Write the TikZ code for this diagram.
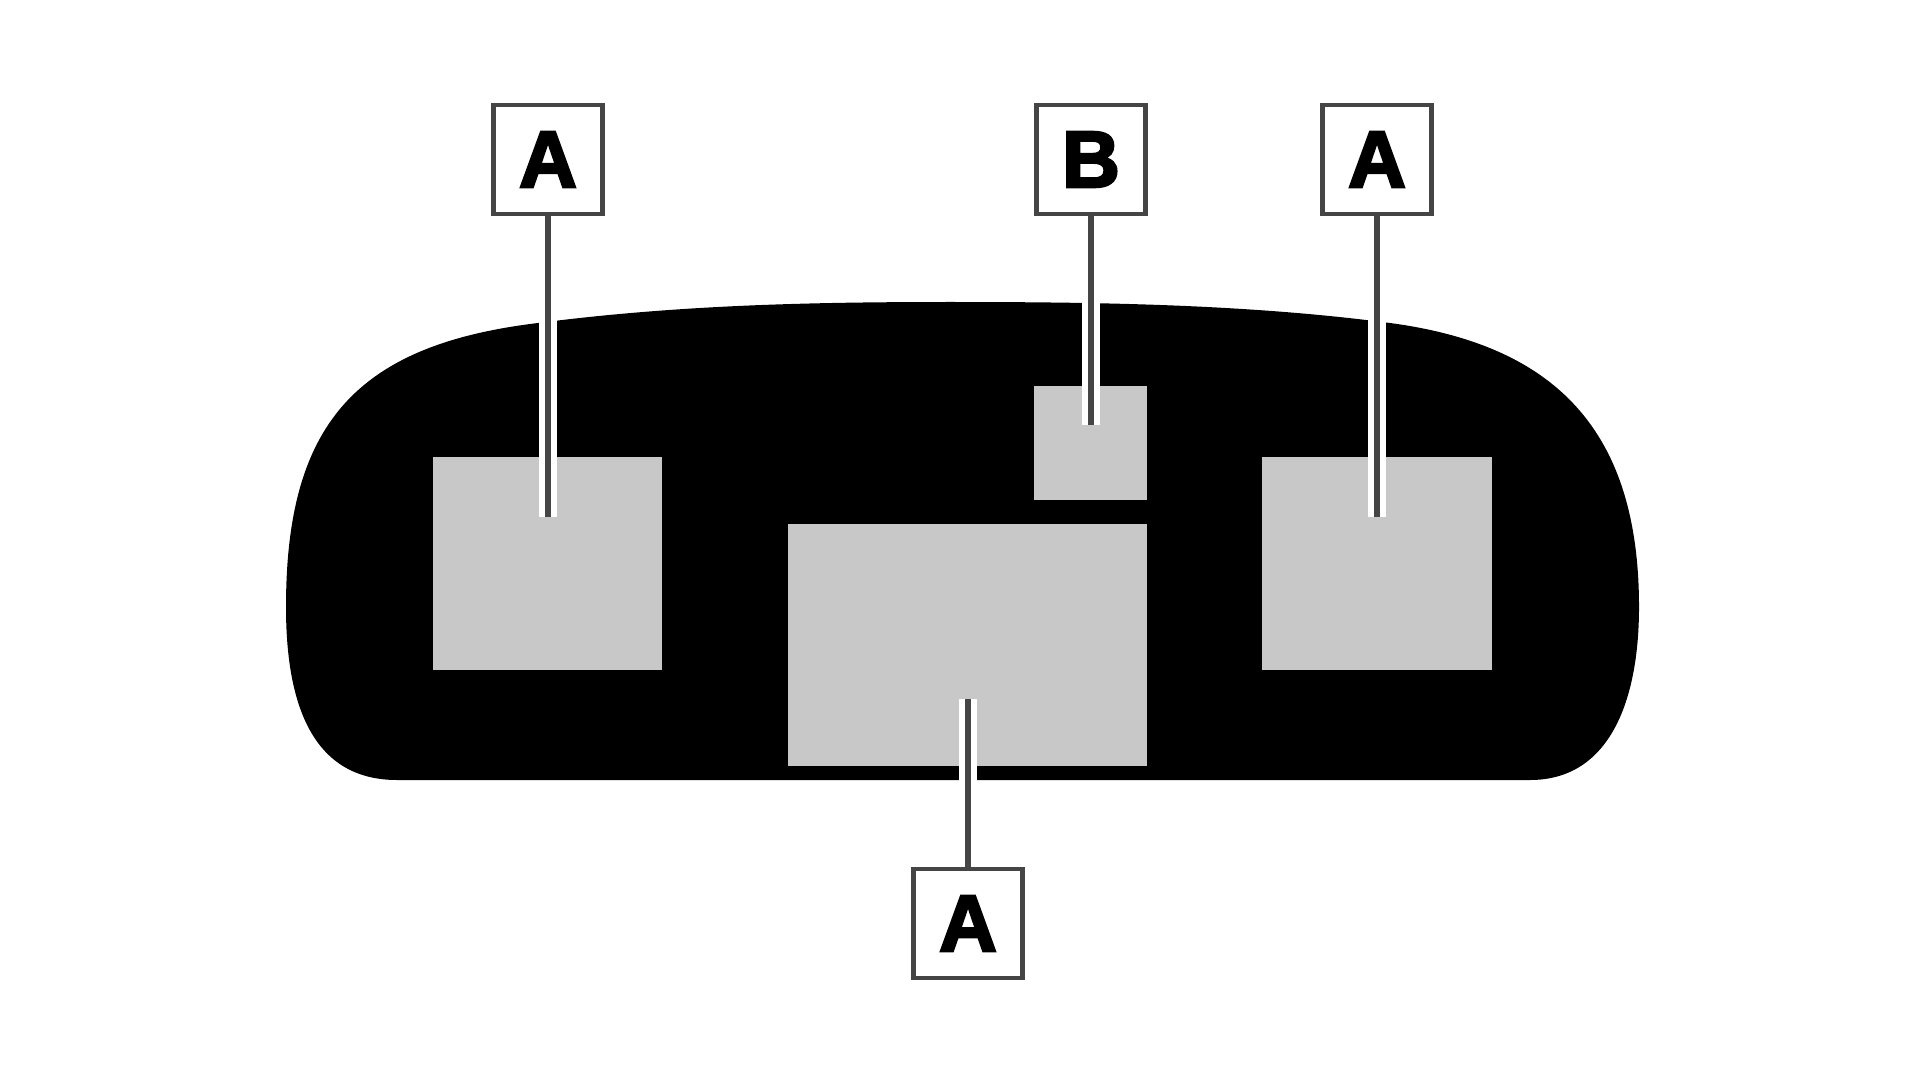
\documentclass[tikz,border=0pt]{standalone}
\usepackage{fontspec}
\newfontfamily\tagfont[FakeBold=3.2]{Liberation Sans Bold}
\usetikzlibrary{calc}
\definecolor{panelgray}{HTML}{C8C8C8}
\definecolor{leadgray}{HTML}{454545}
\tikzset{
  panel/.style={fill=panelgray, inner sep=0pt, outer sep=0pt},
  tag/.style={draw=leadgray, fill=white, line width=2.1pt, inner sep=0pt, outer sep=0pt,
    minimum size=54.5pt, font=\fontsize{40}{40}\tagfont},
}
\newcommand{\leaderLine}[2]{
  \draw[white, line width=9pt, shorten <=40pt] (#1) -- (#2);
  \draw[leadgray, line width=2.9pt] (#1) -- (#2);
}
\begin{document}
\begin{tikzpicture}[x=0.5pt, y=-0.5pt]
  \useasboundingbox (0,0) rectangle (1920,1080);
  \fill[white] (0,0) rectangle (1920,1080);
  \fill[black] (286,607)
    .. controls (286,425) and (355,345) .. (538,323)
    .. controls (677,305) and (810,302) .. (950,302)
    .. controls (1095,302) and (1246,304) .. (1390,323)
    .. controls (1555,345) and (1639,430) .. (1639,607)
    .. controls (1639,700) and (1610,780) .. (1530,780)
    -- (397,780)
    .. controls (310,780) and (286,700) .. (286,607) -- cycle;

  \node [panel, minimum width=114.5pt, minimum height=106.5pt] (panelL) at (547.5,563.5) {};
  \node [panel, minimum width=115pt, minimum height=106.5pt] (panelR) at (1377,563.5) {};
  \node [panel, minimum width=179.5pt, minimum height=121pt] (panelC) at (967.5,644.5) {};
  \node [panel, minimum width=56.75pt, minimum height=57pt] (panelS) at (1090.4,443) {};

  \coordinate (endL) at ($(panelL.north)+(0.5,60)$);
  \coordinate (endR) at ($(panelR.north)+(0,60)$);
  \coordinate (endC) at ($(panelC.south)+(0.5,-67)$);
  \coordinate (endS) at ($(panelS.north)+(0.6,39)$);

  \node [tag, anchor=south] (tagL) at (548,214) {A};
  \node [tag, anchor=south] (tagS) at (1091,214) {B};
  \node [tag, anchor=south] (tagR) at (1377,214) {A};
  \node [tag, anchor=north] (tagC) at (968,869) {A};

  \leaderLine{tagL.south}{endL}
  \leaderLine{tagS.south}{endS}
  \leaderLine{tagR.south}{endR}
  \leaderLine{tagC.north}{endC}
\end{tikzpicture}
\end{document}
